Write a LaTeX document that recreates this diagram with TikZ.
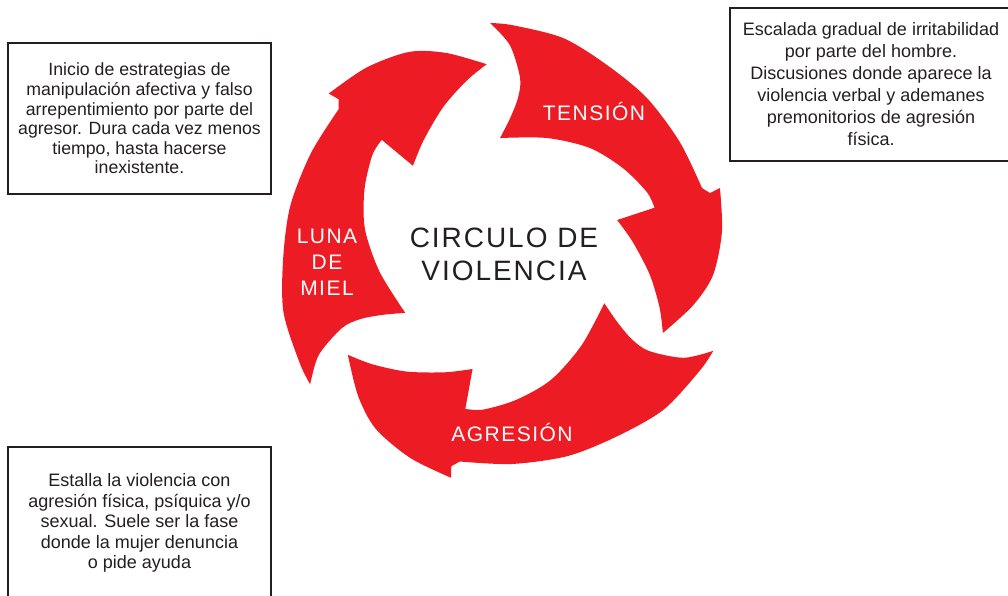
\documentclass[tikz,border=0pt]{standalone}
\usepackage{fontspec}
\setmainfont{Liberation Sans}
\newfontfamily\widefont[LetterSpace=7]{Liberation Sans}
\definecolor{cyclered}{RGB}{237,28,36}
\definecolor{inkgray}{RGB}{35,31,32}
\tikzset{
  phase/.style={fill=cyclered},
  infobox/.style={draw=inkgray, line width=1.6pt, text=inkgray, align=center, inner sep=0pt},
  phaselabel/.style={text=white, align=center, anchor=base, font=\widefont\fontsize{21}{26}\selectfont},
}

\begin{document}
\begin{tikzpicture}[x=1pt,y=-1pt]
  \useasboundingbox (0,0) rectangle (1008,595);

  % the three phase arrows (one shape, turned round the centre)
  \begin{scope}[shift={(502,250)}, yscale=-1]
    \foreach \turn/\grow in {0/1,-122/1.03,-241.5/1.03} {
      \fill[phase, rotate=\turn, scale=\grow]
        plot[smooth] coordinates {(17.2:209.4) (31.2:208) (46.3:210) (60.4:212.7) (73.9:220.6) (87.2:225) (93:227.3)} % outer rim
        -- plot[smooth] coordinates {(93:227.3) (87.8:205) (84:173) (84:153) (86.5:132) (91:112)} % tail
        -- plot[smooth] coordinates {(91:112) (68.1:120.7) (49.2:134.7) (34.1:146) (21.8:156) (15.5:158.3)} % inner rim
        -- (14.6:119)
        -- plot[smooth] coordinates {(14.6:119) (3.5:131) (-9.6:150) (-20.2:168) (-27.3:181)} % head, inner side
        -- plot[smooth] coordinates {(-27.3:181) (-16.1:199) (-6.8:212.5) (4.7:220.7) (15.9:226.6)} % head, outer side
        -- (15.3:215.7) -- cycle;
    }
  \end{scope}

  % phase names (base = last line)
  \node[phaselabel] (tension) at (594,120) {TENSIÓN};
  \node[phaselabel] (agresion) at (512,441) {AGRESIÓN};
  \node[phaselabel] (luna) at (327,295) {LUNA\\DE\\MIEL};
  \node[anchor=base, align=center, text=inkgray, font=\widefont\fontsize{28}{33}\selectfont] (title) at (504,280) {CIRCULO DE\\VIOLENCIA};

  % Text boxes
  \node[infobox, minimum width=263pt, minimum height=151pt, font=\fontsize{17.7}{19.6}\selectfont] (lunabox) at (139.5,118.5)
    {Inicio de estrategias de\\manipulación afectiva y falso\\arrepentimiento por parte del\\agresor. Dura cada vez menos\\tiempo, hasta hacerse\\inexistente.};
  \node[infobox, minimum width=282pt, minimum height=153pt, font=\fontsize{18}{22}\selectfont] (tensionbox) at (871,84.5)
    {Escalada gradual de irritabilidad\\por parte del hombre.\\Discusiones donde aparece la\\violencia verbal y ademanes\\premonitorios de agresión\\física.};
  \node[infobox, minimum width=263pt, minimum height=152pt, font=\fontsize{18}{20.6}\selectfont] (agresionbox) at (139.5,523)
    {Estalla la violencia con\\agresión física, psíquica y/o\\sexual. Suele ser la fase\\donde la mujer denuncia\\o pide ayuda};
\end{tikzpicture}
\end{document}
